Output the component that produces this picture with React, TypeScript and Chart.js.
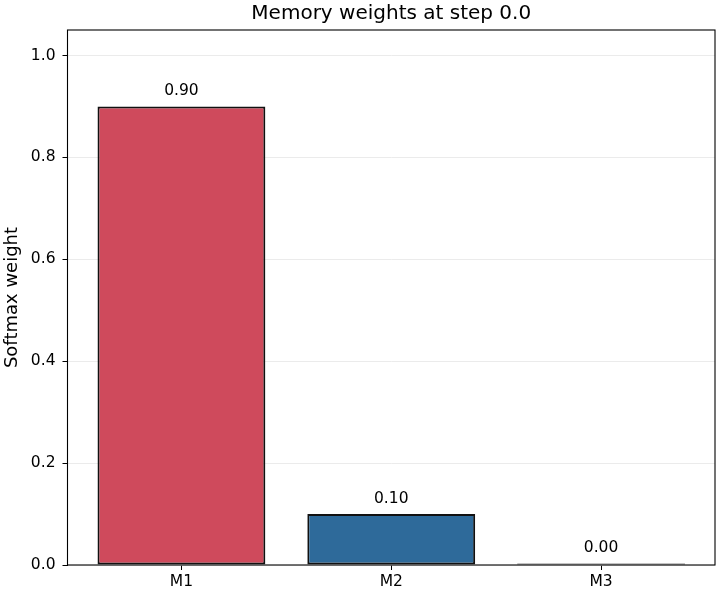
import React, { useRef, useEffect } from 'react';
import { Chart, registerables } from 'chart.js';

Chart.register(...registerables);

const categories = ['M1', 'M2', 'M3'];
const weights = [0.9, 0.1, 0.003];
const barColors = ['#cf4a5c', '#2e6a9a', '#4a9a5c'];
const yTicks = [0, 0.2, 0.4, 0.6, 0.8, 1.0];
const chartTitle = 'Memory weights at step 0.0';

const FONT = "'DejaVu Sans', sans-serif";

// title over the plot area, frame around it and the value above each bar
const framePlugin = {
  id: 'frame',
  afterDatasetsDraw(chart: any) {
    const { ctx, chartArea } = chart;
    const meta = chart.getDatasetMeta(0);
    ctx.save();
    ctx.fillStyle = '#000';
    ctx.font = `15.5px ${FONT}`;
    ctx.textAlign = 'center';
    ctx.textBaseline = 'middle';
    meta.data.forEach((bar: any, i: number) => {
      ctx.fillText(weights[i].toFixed(2), bar.x, bar.y - 15.5);
    });
    ctx.font = `20px ${FONT}`;
    ctx.fillText(chartTitle, (chartArea.left + chartArea.right) / 2, 14);
    ctx.strokeStyle = '#000';
    ctx.lineWidth = 1.1;
    ctx.strokeRect(chartArea.left, chartArea.top, chartArea.right - chartArea.left, chartArea.bottom - chartArea.top);
    ctx.restore();
  },
};

const WeightsChart: React.FC = () => {
  const canvasRef = useRef<HTMLCanvasElement>(null);
  const chartRef = useRef<Chart | null>(null);

  useEffect(() => {
    if (!canvasRef.current) return;
    if (chartRef.current) chartRef.current.destroy();

    chartRef.current = new Chart(canvasRef.current, {
      type: 'bar',
      data: {
        datasets: [
          {
            data: weights.map((w, i) => ({ x: i, y: w })),
            backgroundColor: barColors,
            borderColor: '#111',
            borderWidth: 2,
            borderSkipped: false,
            barPercentage: 0.8,
            categoryPercentage: 1.0,
          },
        ],
      },
      options: {
        animation: false,
        responsive: true,
        maintainAspectRatio: false,
        layout: { padding: { left: 0, right: 5, top: 30, bottom: 0 } },
        plugins: {
          legend: { display: false },
          tooltip: { enabled: false },
          title: { display: false },
        },
        scales: {
          x: {
            type: 'linear',
            offset: false,
            min: -0.543,
            max: 2.543,
            afterBuildTicks: (scale: any) => {
              scale.ticks = categories.map((_, i) => ({ value: i }));
            },
            afterFit: (scale: any) => {
              scale.height = 35;
            },
            ticks: {
              color: '#000',
              font: { family: FONT, size: 15.5 },
              padding: 3,
              maxRotation: 0,
              callback: (v: any) => categories[v] ?? '',
            },
            grid: { offset: false, drawOnChartArea: false, tickColor: '#000', tickLength: 5, tickWidth: 1 },
            border: { display: false },
          },
          y: {
            min: 0,
            max: 1.05,
            afterBuildTicks: (scale: any) => {
              scale.ticks = yTicks.map((v) => ({ value: v }));
            },
            afterFit: (scale: any) => {
              scale.width = 67.5;
            },
            ticks: {
              color: '#000',
              font: { family: FONT, size: 15.5 },
              padding: 7,
              callback: (v: any) => Number(v).toFixed(1),
            },
            grid: { color: '#e6e6e6', tickColor: '#000', tickLength: 5, lineWidth: 0.8, tickWidth: 1 },
            border: { display: false },
            title: {
              display: true,
              text: 'Softmax weight',
              color: '#000',
              font: { family: FONT, size: 18, lineHeight: 1.2 },
              padding: { top: 2, bottom: 0 },
            },
          },
        },
      } as any,
      plugins: [framePlugin],
    });

    return () => {
      if (chartRef.current) {
        chartRef.current.destroy();
        chartRef.current = null;
      }
    };
  }, []);

  return (
    <div style={{ position: 'absolute', left: 0, top: 0, width: '720px', height: '600px', background: '#fff' }}>
      <canvas ref={canvasRef} />
    </div>
  );
};

export default function App() {
  return <WeightsChart />;
}
